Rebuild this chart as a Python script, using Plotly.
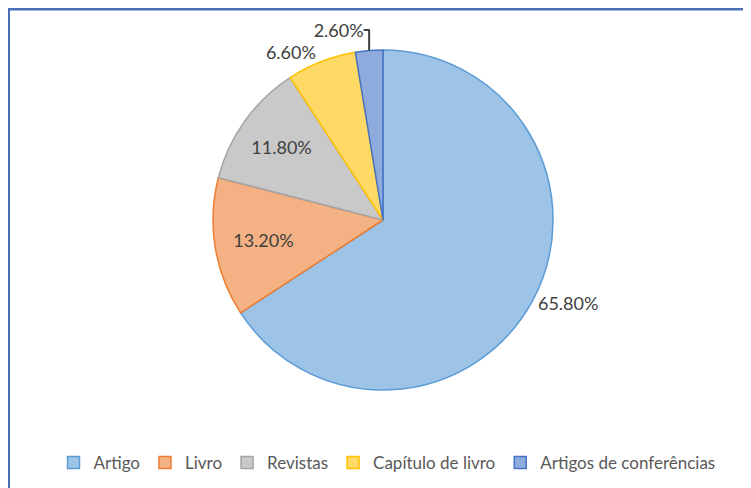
import plotly.graph_objects as go

categories = ["Artigo", "Livro", "Revistas", "Capítulo de livro", "Artigos de conferências"]
values = [65.8, 13.2, 11.8, 6.6, 2.6]
label_texts = ["65.80%", "13.20%", "11.80%", "6.60%", "2.60%"]

fill_colors = ["#9dc3e6", "#f4b183", "#c9c9c9", "#ffd966", "#8faadc"]
line_colors = ["#5b9bd5", "#ed7d31", "#a5a5a5", "#ffc000", "#4472c4"]
text_positions = ["outside", "inside", "inside", "outside", "outside"]

W, H = 751, 488
OFF = 8  # page body margin offset
cx, cy, r = 383 - OFF, 220 - OFF, 170

fig = go.Figure()
fig.add_trace(go.Pie(
    labels=categories,
    values=values,
    text=label_texts,
    textinfo="text",
    textposition=text_positions,
    sort=False,
    direction="clockwise",
    rotation=0,
    marker=dict(colors=fill_colors, line=dict(color=line_colors, width=1.5)),
    insidetextfont=dict(family="Lato, Open Sans, sans-serif", size=18, color="#404040"),
    outsidetextfont=dict(family="Lato, Open Sans, sans-serif", size=18, color="#404040"),
    insidetextorientation="horizontal",
    domain=dict(x=[(cx - r) / W, (cx + r) / W],
                y=[1 - (cy + r) / H, 1 - (cy - r) / H]),
    hoverinfo="label+percent",
))

fig.add_shape(type="rect", xref="paper", yref="paper",
              x0=0.5 / W, x1=1.05, y0=-0.05, y1=1 - 1 / H,
              fillcolor="white", line=dict(color="#4a6eb5", width=3), layer="below")

fig.update_layout(
    width=W, height=H,
    margin=dict(l=0, r=0, t=0, b=0, autoexpand=False),
    paper_bgcolor="#f4f4f4",
    font=dict(family="Lato, Open Sans, sans-serif", color="#595959", size=17),
    showlegend=True,
    legend=dict(orientation="h", x=(387 - OFF) / W, xanchor="center",
                y=1 - (463 - OFF) / H, yanchor="middle",
                font=dict(size=17, color="#595959"), itemwidth=30,
                bgcolor="rgba(0,0,0,0)", tracegroupgap=0),
)

fig.write_html("out.html")
